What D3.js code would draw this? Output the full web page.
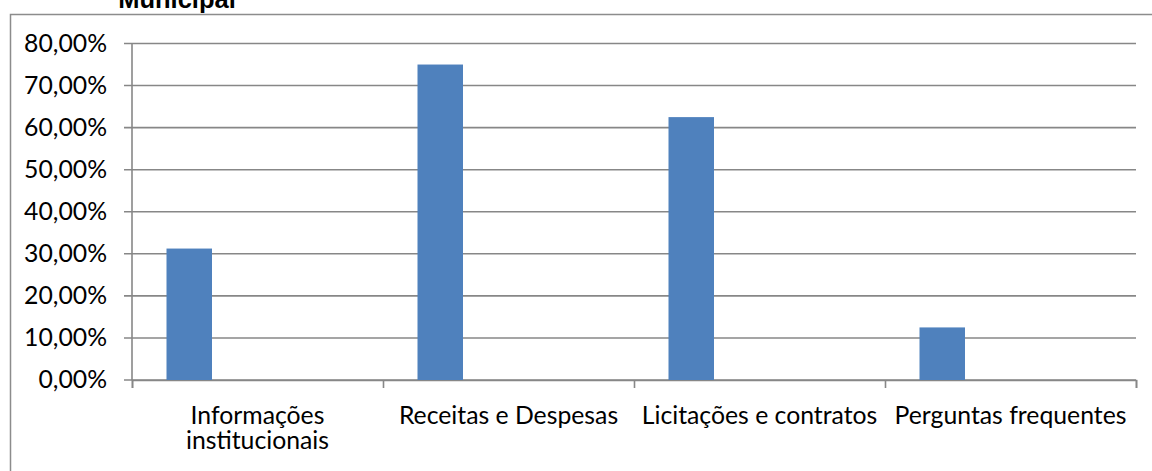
<!DOCTYPE html>
<html>
<head>
<meta charset="utf-8">
<script src="https://cdn.jsdelivr.net/npm/d3@7"></script>
<style>
  html, body { margin: 0; padding: 0; background: #fff; }
  svg { display: block; }
</style>
</head>
<body>
<svg id="chart" width="1152" height="471"></svg>
<script>
// ---- data ----
const categories = ["Informações institucionais", "Receitas e Despesas", "Licitações e contratos", "Perguntas frequentes"];
const categoryLines = [["Informações", "institucionais"], ["Receitas e Despesas"], ["Licitações e contratos"], ["Perguntas frequentes"]];
const values = [0.3125, 0.75, 0.625, 0.125];
const yTicks = [0, 0.1, 0.2, 0.3, 0.4, 0.5, 0.6, 0.7, 0.8];
const titleText = "Municipal";

// ---- layout ----
const W = 1152, H = 471;
const plot = { left: 132, right: 1136, top: 43.5, bottom: 380 };
const labelFont = "Lato, 'Open Sans', sans-serif";
const gridColor = "#878787";
const barColor = "#4F81BD";

const svg = d3.select("#chart");

const locale = d3.formatLocale({ decimal: ",", thousands: ".", grouping: [3], currency: ["R$", ""] });
const fmt = locale.format(".2%");

const x = d3.scaleBand().domain(categories).range([plot.left, plot.right]).paddingInner(0).paddingOuter(0);
const y = d3.scaleLinear().domain([0, 0.8]).range([plot.bottom, plot.top]);

// fit font size to reference label width
const probe = svg.append("text").attr("font-family", labelFont).attr("font-size", 24).text("Perguntas frequentes");
const w24 = probe.node().getComputedTextLength();
probe.remove();
const fs = 24 * 232 / w24;

// outer border (chart area frame)
svg.append("rect")
  .attr("x", 10.5).attr("y", 14.5)
  .attr("width", W + 20).attr("height", H + 20)
  .attr("fill", "none").attr("stroke", "#8c8c8c").attr("stroke-width", 1.5);

// title fragment
svg.append("text")
  .attr("x", 177).attr("y", 7.5)
  .attr("text-anchor", "middle")
  .attr("font-family", "'Liberation Sans', Arial, sans-serif")
  .attr("font-weight", "bold")
  .attr("font-size", 25.5)
  .attr("fill", "#000")
  .text(titleText);

// gridlines
svg.append("g")
  .selectAll("line")
  .data(yTicks)
  .join("line")
  .attr("x1", plot.left - 8).attr("x2", plot.right)
  .attr("y1", d => y(d)).attr("y2", d => y(d))
  .attr("stroke", gridColor).attr("stroke-width", 1.6);

// y axis line
svg.append("line")
  .attr("x1", plot.left).attr("x2", plot.left)
  .attr("y1", plot.top).attr("y2", plot.bottom)
  .attr("stroke", gridColor).attr("stroke-width", 1.6);

// x axis via d3 axis (ticks at band boundaries)
const boundaries = categories.map(c => x(c)).concat([plot.right]);
const xb = d3.scaleLinear().domain([plot.left, plot.right]).range([plot.left, plot.right]);
const xAxis = svg.append("g")
  .attr("transform", `translate(0,${plot.bottom})`)
  .call(d3.axisBottom(xb).tickValues(boundaries).tickSize(8).tickFormat(""));
xAxis.select(".domain").attr("stroke", gridColor).attr("stroke-width", 1.6);
xAxis.selectAll(".tick line").attr("stroke", gridColor).attr("stroke-width", 1.6);

// y tick labels
svg.append("g")
  .selectAll("text")
  .data(yTicks)
  .join("text")
  .attr("x", 107)
  .attr("y", d => y(d) + 8.3)
  .attr("text-anchor", "end")
  .attr("font-family", labelFont)
  .attr("font-size", fs)
  .attr("fill", "#000")
  .text(d => fmt(d));

// bars
const bw = x.bandwidth();
svg.append("g")
  .selectAll("rect")
  .data(values)
  .join("rect")
  .attr("x", (d, i) => x(categories[i]) + bw * 34.5 / 251)
  .attr("width", bw * 45.5 / 251)
  .attr("y", d => y(d))
  .attr("height", d => y(0) - y(d))
  .attr("fill", barColor);

// category labels
const catG = svg.append("g");
categoryLines.forEach((lines, i) => {
  const cx = x(categories[i]) + bw / 2;
  const t = catG.append("text")
    .attr("text-anchor", "middle")
    .attr("font-family", labelFont)
    .attr("font-size", fs)
    .attr("fill", "#000");
  lines.forEach((ln, j) => {
    t.append("tspan").attr("x", cx).attr("y", 423.5 + j * 25.6).text(ln);
  });
});
</script>
</body>
</html>
